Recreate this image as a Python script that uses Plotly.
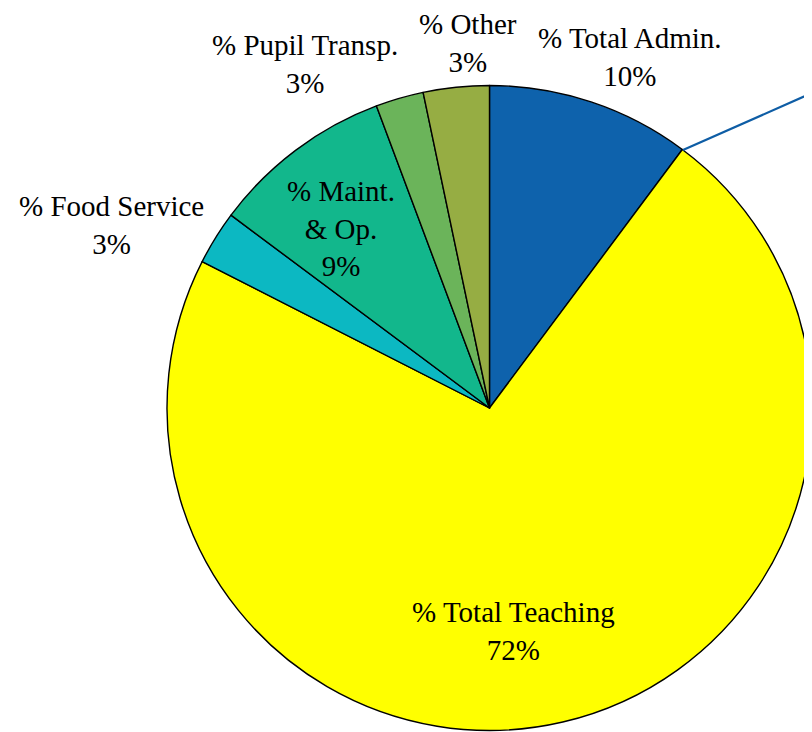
import plotly.graph_objects as go

# spending shares, read clockwise from 12 o'clock
categories = ["% Total Admin.", "% Total Teaching", "% Food Service",
              "% Maint.<br>& Op.", "% Pupil Transp.", "% Other"]
shares = [10.2, 72.3, 2.7, 9.1, 2.4, 3.3]
shown_pct = ["10%", "72%", "3%", "9%", "3%", "3%"]
colors = ["#0E62AC", "#FFFF00", "#0CB8C2", "#12B78C", "#6BB45A", "#96AD43"]

OFF = 8  # page body margin shifts the figure by 8px
W, H = 812 - OFF, 732 - OFF
# label centres in page pixels (layout only)
label_pos = [(630, 57), (513, 631), (111, 225), (341, 228), (305, 64), (468, 43)]

cx, cy, r = 490 - OFF, 408 - OFF, 323

fig = go.Figure()
fig.add_trace(go.Pie(
    labels=categories,
    values=shares,
    sort=False,
    direction="clockwise",
    rotation=0,
    textinfo="none",
    hoverinfo="label+percent",
    marker=dict(colors=colors, line=dict(color="black", width=1.4)),
    domain=dict(x=[(cx - r) / W, min(1.0, (cx + r) / W)],
                y=[max(0.0, 1 - (cy + r) / H), 1 - (cy - r) / H]),
    showlegend=False,
))

for name, pct, (px_, py_) in zip(categories, shown_pct, label_pos):
    fig.add_annotation(
        x=(px_ - OFF) / W, y=1 - (py_ - OFF) / H, xref="paper", yref="paper",
        text=f"{name}<br>{pct}", showarrow=False,
        xanchor="center", yanchor="middle",
        font=dict(family="Liberation Serif", size=29, color="black"),
    )

# leader line of the admin slice running off the right edge
fig.add_annotation(
    x=(683 - OFF) / W, y=1 - (150 - OFF) / H, xref="paper", yref="paper",
    ax=140, ay=-57, axref="pixel", ayref="pixel",
    text="", showarrow=True, arrowhead=0, arrowwidth=2.2, arrowcolor="#0E5DA5",
)

fig.update_layout(
    width=W, height=H,
    margin=dict(l=0, r=0, t=0, b=0),
    paper_bgcolor="white", plot_bgcolor="white",
)

fig.write_html("out.html")
